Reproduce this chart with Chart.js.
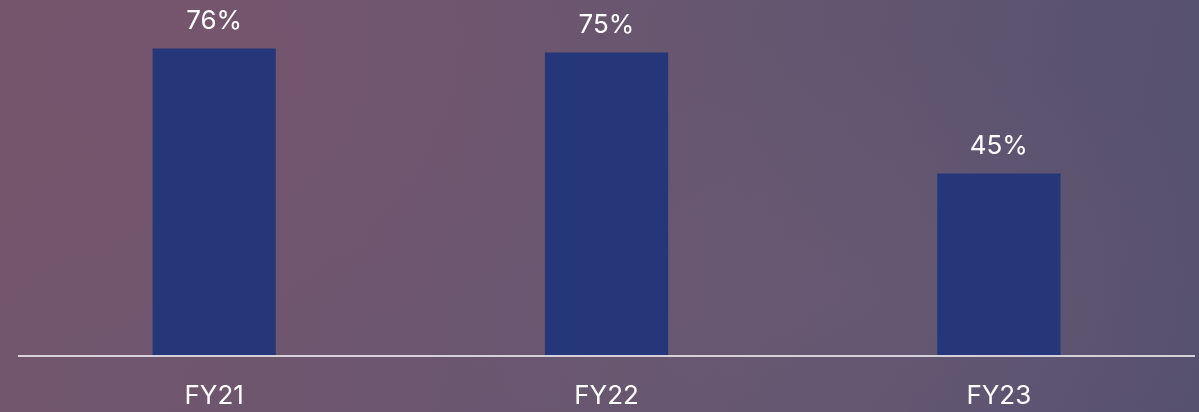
<!DOCTYPE html>
<html>
<head>
<meta charset="utf-8">
<script src="https://cdn.jsdelivr.net/npm/chart.js@4.4.0/dist/chart.umd.min.js"></script>
<style>
  html, body { margin: 0; padding: 0; }
  body { width: 1199px; height: 412px; overflow: hidden;
    background:
      radial-gradient(ellipse 420px 260px at 830px 290px, rgba(120,95,120,0.30), rgba(0,0,0,0)),
      radial-gradient(ellipse 600px 300px at 120px 60px, rgba(122,84,108,0.45), rgba(0,0,0,0)),
      linear-gradient(100deg, #72566c 0%, #6d5670 35%, #65566f 60%, #5a5370 85%, #55516f 100%);
  }
  #wrap { position: relative; width: 1199px; height: 412px; }
</style>
</head>
<body>
<div id="wrap"><canvas id="c" width="1199" height="412"></canvas></div>
<script>
const categories = ["FY21", "FY22", "FY23"];
const values = [76, 75, 45];
const valueLabels = ["76%", "75%", "45%"];

const FONT = "Inter, 'Open Sans', sans-serif";

const valueLabelPlugin = {
  id: 'valueLabels',
  afterDatasetsDraw(chart) {
    const ctx = chart.ctx;
    const meta = chart.getDatasetMeta(0);
    ctx.save();
    ctx.fillStyle = '#ffffff';
    ctx.font = '26px ' + FONT;
    ctx.textAlign = 'center';
    ctx.textBaseline = 'alphabetic';
    meta.data.forEach((bar, i) => {
      ctx.fillText(valueLabels[i], bar.x, bar.y - 19);
    });
    ctx.restore();
  }
};

const axisLinePlugin = {
  id: 'axisLine',
  afterDatasetsDraw(chart) {
    const { ctx, chartArea } = chart;
    ctx.save();
    ctx.strokeStyle = 'rgba(225,222,230,0.9)';
    ctx.lineWidth = 2;
    ctx.beginPath();
    ctx.moveTo(chartArea.left, chartArea.bottom + 1);
    ctx.lineTo(chartArea.right, chartArea.bottom + 1);
    ctx.stroke();
    ctx.restore();
  }
};

new Chart(document.getElementById('c'), {
  type: 'bar',
  data: {
    labels: categories,
    datasets: [{
      data: values,
      backgroundColor: '#253679',
      borderWidth: 0,
      categoryPercentage: 1.0,
      barPercentage: 0.314
    }]
  },
  options: {
    responsive: false,
    animation: false,
    devicePixelRatio: 1,
    layout: { padding: { left: 18, right: 4, top: 0, bottom: 0 } },
    plugins: { legend: { display: false }, tooltip: { enabled: false } },
    scales: {
      x: {
        grid: { display: false, drawTicks: false },
        border: { display: false },
        ticks: { color: '#ffffff', font: { family: FONT, size: 26 }, padding: 26 },
        afterFit(scale) { scale.height = 57; }
      },
      y: {
        display: false,
        min: 0,
        max: 88
      }
    }
  },
  plugins: [valueLabelPlugin, axisLinePlugin]
});
</script>
</body>
</html>
